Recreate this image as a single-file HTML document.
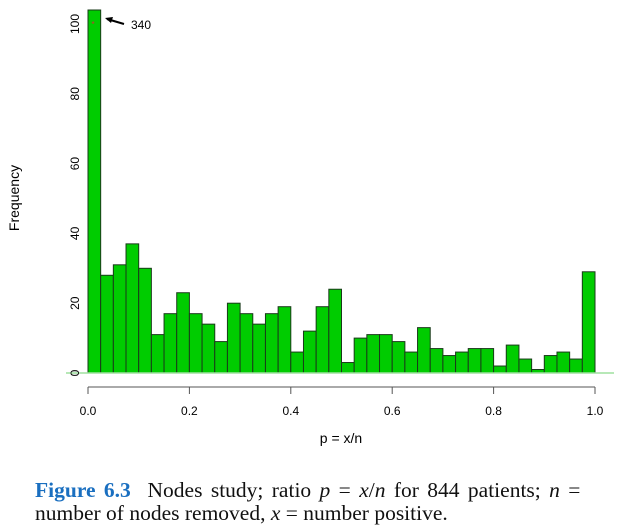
<!DOCTYPE html>
<html><head><meta charset="utf-8"><style>
body{margin:0;background:#fff;width:618px;height:531px;overflow:hidden}
.cap{position:absolute;left:35px;top:479px;font-family:"Liberation Serif",serif;font-size:21.5px;line-height:23px;color:#111;width:600px;white-space:nowrap}
.cap b{color:#1a6fc0}
.l1{word-spacing:3px}
</style></head><body>
<svg width="618" height="470" style="position:absolute;left:0;top:0" font-family="Liberation Sans, sans-serif">
<g id="bars"></g>
<line x1="66" x2="614" y1="373" y2="373" stroke="#9fe09f" stroke-width="1.5"/>
<g id="xaxis" stroke="#555" fill="none"></g>
<g id="yaxis"></g>
<text x="341" y="443" font-size="14" text-anchor="middle">p = x/n</text>
<text transform="translate(19,198) rotate(-90)" font-size="14" text-anchor="middle">Frequency</text>
<line x1="124" y1="24" x2="107" y2="19" stroke="#000" stroke-width="2"/>
<polygon points="105,18 113,17 111,23" fill="#000"/>
<text x="131" y="29" font-size="12">340</text>
<text x="93" y="27" font-size="8" fill="#c33" text-anchor="middle">*</text>
</svg>
<div class="cap"><span class="l1"><b>Figure 6.3</b>&nbsp; Nodes study; ratio <i>p</i> = <i>x</i>/<i>n</i> for 844 patients; <i>n</i> =</span><br>number of nodes removed, <i>x</i> = number positive.</div>
<script>
const counts=[340,28,31,37,30,11,17,23,17,14,9,20,17,14,17,19,6,12,19,24,3,10,11,11,9,6,13,7,5,6,7,7,2,8,4,1,5,6,4,29];
const binWidth=0.025;
const xTicks=[0,0.2,0.4,0.6,0.8,1.0];
const xTickLabels=["0.0","0.2","0.4","0.6","0.8","1.0"];
const yTicks=[0,20,40,60,80,100];
const NS="http://www.w3.org/2000/svg";
const X=v=>88+v*507, Y=v=>373-v*3.49, TOP=10;
const bars=document.getElementById('bars');
counts.forEach((c,i)=>{
 const r=document.createElementNS(NS,'rect');
 const y=Math.max(Y(c),TOP);
 r.setAttribute('x',X(i*binWidth));r.setAttribute('width',X((i+1)*binWidth)-X(i*binWidth));
 r.setAttribute('y',y);r.setAttribute('height',373-y);
 r.setAttribute('fill','#00cc00');r.setAttribute('stroke','#1a3a1a');r.setAttribute('stroke-width','1');
 
 
 bars.appendChild(r);
});
const xa=document.getElementById('xaxis');
let p=document.createElementNS(NS,'line');
p.setAttribute('x1',X(0));p.setAttribute('x2',X(1));p.setAttribute('y1',387);p.setAttribute('y2',387);


xa.appendChild(p);
xTicks.forEach((t,i)=>{
 const l=document.createElementNS(NS,'line');
 l.setAttribute('x1',X(t));l.setAttribute('x2',X(t));l.setAttribute('y1',387);l.setAttribute('y2',394);
 xa.appendChild(l);
 const tx=document.createElementNS(NS,'text');
 tx.setAttribute('x',X(t));tx.setAttribute('y',415);tx.setAttribute('font-size','12');tx.setAttribute('text-anchor','middle');
 tx.setAttribute('fill','#000');tx.setAttribute('stroke','none');
 tx.textContent=xTickLabels[i];
 
 
 document.querySelector('svg').appendChild(tx);
});
const ya=document.getElementById('yaxis');
yTicks.forEach(t=>{
 const tx=document.createElementNS(NS,'text');
 tx.setAttribute('transform','translate(79,'+Y(t)+') rotate(-90)');
 tx.setAttribute('font-size','12');tx.setAttribute('text-anchor','middle');
 tx.textContent=t;
 
 
 ya.appendChild(tx);
});
</script>
</body></html>
